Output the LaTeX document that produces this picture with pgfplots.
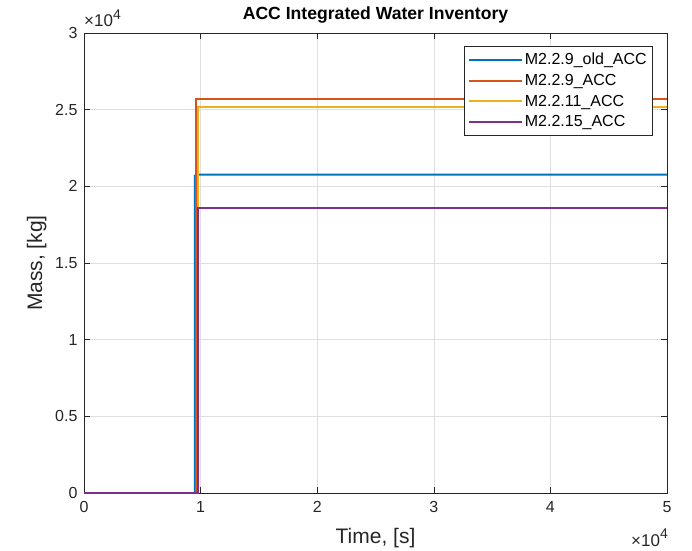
\documentclass[border=0pt]{standalone}
\usepackage{fontspec}
\setmainfont{Liberation Sans}
\usepackage{pgfplots}
\pgfplotsset{compat=1.18}
\definecolor{mblue}{RGB}{0,114,189}
\definecolor{morange}{RGB}{217,83,25}
\definecolor{myellow}{RGB}{237,177,32}
\definecolor{mpurple}{RGB}{126,47,142}
\definecolor{axgray}{RGB}{38,38,38}
\definecolor{gridgray}{RGB}{223,223,223}
\newcommand{\sci}{{\fontsize{17}{20}\selectfont ×10\raisebox{0.42em}{\fontsize{14}{16}\selectfont 4}}}
\begin{document}
\begin{tikzpicture}
\useasboundingbox (0,0) rectangle (692pt,550pt);
\begin{axis}[
  name=ax,
  at={(84pt,57pt)}, anchor=south west,
  scale only axis, width=583pt, height=460pt,
  xmin=0, xmax=50000, ymin=0, ymax=30000,
  scaled ticks=false,
  xtick={0,10000,20000,30000,40000,50000},
  xticklabels={0,1,2,3,4,5},
  ytick={0,5000,10000,15000,20000,25000,30000},
  yticklabels={0,0.5,1,1.5,2,2.5,3},
  tick align=inside, major tick length=6pt,
  xtick pos=both, ytick pos=both,
  tick style={axgray, line width=0.6pt},
  axis line style={axgray, line width=0.6pt},
  grid=major, major grid style={gridgray, line width=0.6pt},
  ticklabel style={font=\fontsize{16}{19}\selectfont, text=axgray},
  xticklabel style={yshift=-5pt},
  yticklabel style={xshift=-3pt},
  /pgf/number format/assume math mode=true,
  title={ACC Integrated Water Inventory},
  title style={font=\bfseries\fontsize{17.6}{21}\selectfont, at={(0.5,1)}, anchor=south, yshift=0pt},
  xlabel={Time, [s]},
  ylabel={Mass, [kg]},
  label style={font=\fontsize{21}{25}\selectfont, text=axgray},
  xlabel style={yshift=-9pt},
  ylabel style={yshift=2pt},
  legend style={at={(0.976,0.972)}, anchor=north east, draw=axgray, line width=0.6pt,
    font=\fontsize{16}{19}\selectfont, row sep=4pt, inner xsep=4pt, inner ysep=5pt},
  legend cell align=left,
  legend image code/.code={\draw[#1, line width=2pt] (0pt,0pt) -- (53pt,0pt);},
  every axis plot/.append style={line width=2pt},
]
\addplot[mblue] coordinates {(0,0) (9500,0) (9500,20700) (9780,20760) (50000,20760)};
\addplot[morange] coordinates {(0,0) (9600,0) (9600,25710) (50000,25710)};
\addplot[myellow] coordinates {(0,0) (9780,0) (9780,25160) (50000,25160)};
\addplot[mpurple] coordinates {(0,0) (9750,0) (9750,18580) (50000,18580)};
\legend{M2.2.9\_old\_ACC, M2.2.9\_ACC, M2.2.11\_ACC, M2.2.15\_ACC}
\end{axis}
\node[anchor=base west, inner sep=0pt, text=axgray] at (84pt,523pt) {\sci};
\node[anchor=base east, inner sep=0pt, text=axgray] at (668pt,4pt) {\sci};
\end{tikzpicture}
\end{document}
